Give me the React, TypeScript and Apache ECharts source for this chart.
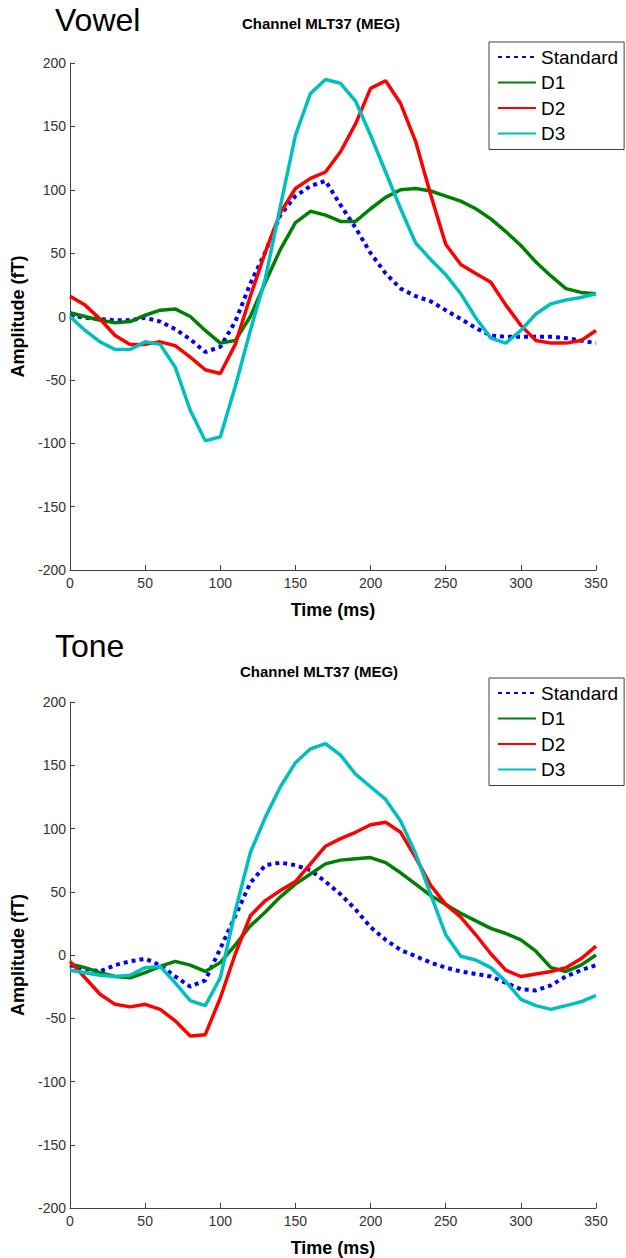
import React, { useEffect, useRef } from "react";
import * as echarts from "echarts";

const TIME = [0, 10, 20, 30, 40, 50, 60, 70, 80, 90, 100, 110, 120, 130, 140, 150, 160, 170, 180, 190, 200, 210, 220, 230, 240, 250, 260, 270, 280, 290, 300, 310, 320, 330, 340, 350];

const SERIES_NAMES = ["Standard", "D1", "D2", "D3"];
const PANEL_LABELS = ["Vowel", "Tone"];
const PANEL_TITLE = "Channel MLT37 (MEG)";
const Y_TICKS = [-200, -150, -100, -50, 0, 50, 100, 150, 200];
const X_TICKS = [0, 50, 100, 150, 200, 250, 300, 350];

// Vowel panel
const VOWEL_STANDARD = [1, -1, -2, -3, -3, -1, -4, -10, -18, -28, -24, -4, 26, 51, 80, 95, 103, 107, 88, 70, 50, 34, 22, 16, 12, 5, -2, -9, -15, -16, -16, -16, -16, -17, -19, -21];
const VOWEL_D1 = [3, 0, -3, -5, -4, 1, 5, 6, 0, -11, -21, -19, 0, 27, 53, 74, 83, 80, 75, 75, 85, 94, 100, 101, 99, 95, 91, 85, 77, 67, 56, 43, 32, 22, 19, 18];
const VOWEL_D2 = [16, 9, -2, -15, -22, -22, -20, -23, -32, -42, -45, -22, 16, 51, 82, 101, 109, 114, 130, 152, 180, 186, 168, 138, 96, 57, 41, 34, 27, 9, -7, -19, -21, -21, -19, -11];
const VOWEL_D3 = [0, -11, -20, -26, -26, -20, -22, -40, -74, -98, -95, -55, -11, 30, 87, 143, 176, 187, 184, 170, 143, 114, 85, 58, 45, 33, 18, -1, -17, -21, -11, 2, 10, 13, 15, 18];

// Tone panel
const TONE_STANDARD = [-8, -11, -13, -8, -5, -3, -8, -17, -25, -20, 5, 31, 57, 71, 73, 71, 67, 58, 48, 36, 22, 12, 4, -1, -6, -10, -13, -15, -17, -22, -27, -28, -24, -17, -12, -8];
const TONE_D1 = [-7, -10, -14, -17, -18, -14, -9, -5, -8, -13, -6, 8, 23, 34, 46, 56, 64, 72, 75, 76, 77, 73, 65, 56, 47, 40, 33, 27, 21, 17, 12, 3, -10, -13, -8, 0];
const TONE_D2 = [-5, -18, -31, -39, -41, -39, -43, -52, -64, -63, -34, 1, 31, 43, 51, 58, 72, 86, 92, 97, 103, 105, 97, 77, 55, 40, 30, 16, 1, -12, -17, -15, -13, -10, -3, 7];
const TONE_D3 = [-12, -14, -16, -17, -16, -10, -9, -22, -36, -40, -18, 35, 81, 109, 133, 152, 163, 167, 158, 143, 133, 123, 106, 80, 48, 16, -1, -4, -10, -21, -35, -40, -43, -40, -37, -32];

const PANELS = [
  [VOWEL_STANDARD, VOWEL_D1, VOWEL_D2, VOWEL_D3],
  [TONE_STANDARD, TONE_D1, TONE_D2, TONE_D3],
];

const COLORS = ["#0000FF", "#008000", "#FF0000", "#00BFBF"];
const FONT = "'Liberation Sans', Arial, sans-serif";

export default function App() {
  const ref = useRef<HTMLDivElement>(null);

  useEffect(() => {
    if (!ref.current) return;
    const chart = echarts.init(ref.current, null, { renderer: "svg" });

    const gridTops = [63, 702];
    const gridHeights = [507, 510];

    const grids = gridTops.map((top, i) => ({
      left: 70,
      width: 526,
      top,
      height: gridHeights[i],
      containLabel: false,
    }));

    const axisLineStyle = { color: "#404040", width: 1 };

    const xAxes = gridTops.map((_, i) => ({
      type: "value",
      gridIndex: i,
      min: X_TICKS[0],
      max: X_TICKS[X_TICKS.length - 1],
      interval: 50,
      name: "Time (ms)",
      nameLocation: "middle",
      nameGap: 31,
      nameTextStyle: { fontFamily: FONT, fontSize: 18, fontWeight: "bold", color: "#000" },
      axisLine: { show: true, onZero: false, lineStyle: axisLineStyle },
      axisTick: { show: true, inside: true, length: 5, lineStyle: axisLineStyle },
      axisLabel: { fontFamily: FONT, fontSize: 14, color: "#333", margin: 6 },
      splitLine: { show: false },
    }));

    const yAxes = gridTops.map((_, i) => ({
      type: "value",
      gridIndex: i,
      min: Y_TICKS[0],
      max: Y_TICKS[Y_TICKS.length - 1],
      interval: 50,
      name: "Amplitude (fT)",
      nameLocation: "middle",
      nameGap: 42,
      nameTextStyle: { fontFamily: FONT, fontSize: 18, fontWeight: "bold", color: "#000" },
      axisLine: { show: true, onZero: false, lineStyle: axisLineStyle },
      axisTick: { show: true, inside: true, length: 5, lineStyle: axisLineStyle },
      axisLabel: { fontFamily: FONT, fontSize: 14, color: "#333", margin: 4 },
      splitLine: { show: false },
    }));

    const series: any[] = [];
    PANELS.forEach((panel, p) => {
      panel.forEach((values, s) => {
        series.push({
          name: SERIES_NAMES[s],
          type: "line",
          xAxisIndex: p,
          yAxisIndex: p,
          symbol: "none",
          smooth: false,
          data: TIME.map((t, k) => [t, values[k]]),
          lineStyle: {
            color: COLORS[s],
            width: s === 0 ? 4 : 3.5,
            type: s === 0 ? [4, 4] : "solid",
            cap: "butt",
          },
          itemStyle: { color: COLORS[s] },
          z: 2 + s,
        });
      });
    });

    const legendTops = [42, 678];
    const legends = legendTops.map((top) => ({
      orient: "vertical",
      left: 489,
      top,
      data: SERIES_NAMES,
      backgroundColor: "#fff",
      borderColor: "#404040",
      borderWidth: 1,
      borderRadius: 0,
      padding: [5, 6, 6, 8],
      itemWidth: 38,
      itemHeight: 14,
      itemGap: 5.5,
      selectedMode: false,
      itemStyle: { opacity: 0 },
      textStyle: { fontFamily: FONT, fontSize: 19, color: "#000", lineHeight: 20 },
    }));

    const titles = [
      { text: PANEL_LABELS[0], left: 55, top: 4, textStyle: { fontFamily: FONT, fontSize: 32, fontWeight: "normal", color: "#000" }, padding: 0 },
      { text: PANEL_TITLE, left: 242, top: 16, textStyle: { fontFamily: FONT, fontSize: 15, fontWeight: "bold", color: "#000" }, padding: 0 },
      { text: PANEL_LABELS[1], left: 55, top: 630, textStyle: { fontFamily: FONT, fontSize: 32, fontWeight: "normal", color: "#000" }, padding: 0 },
      { text: PANEL_TITLE, left: 240, top: 664, textStyle: { fontFamily: FONT, fontSize: 15, fontWeight: "bold", color: "#000" }, padding: 0 },
    ];

    chart.setOption({
      animation: false,
      backgroundColor: "#fff",
      title: titles,
      legend: legends,
      grid: grids,
      xAxis: xAxes,
      yAxis: yAxes,
      series,
    });

    return () => chart.dispose();
  }, []);

  return (
    <div
      ref={ref}
      style={{ position: "fixed", left: 0, top: 0, width: 626, height: 1258, background: "#fff" }}
    />
  );
}
